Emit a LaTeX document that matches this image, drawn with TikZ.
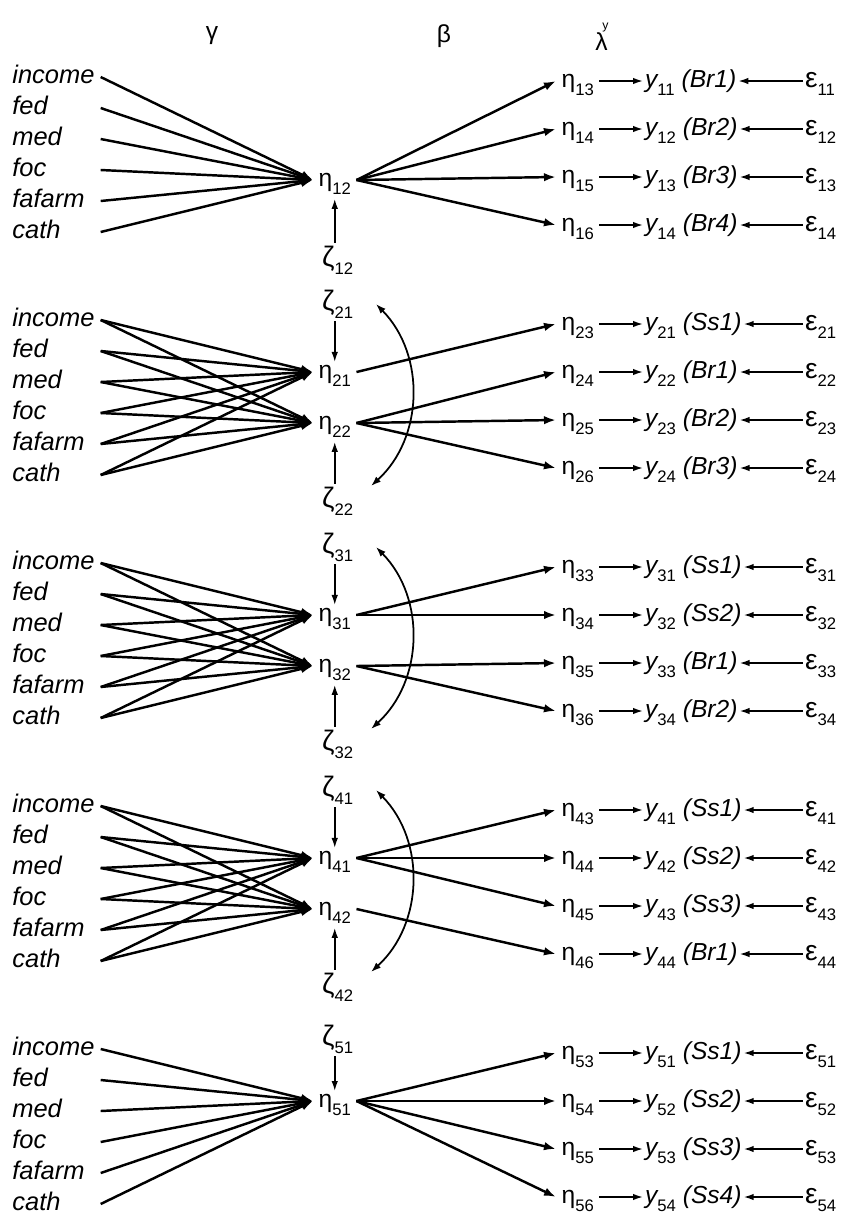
\documentclass[tikz,border=0pt]{standalone}
\usepackage{fontspec}
\setmainfont{Liberation Sans}
\usepackage{tikz}
\usetikzlibrary{arrows.meta}

\newcommand\dsz{\fontsize{14}{16}\selectfont}
\newcommand\sbs[1]{\raisebox{-4.5pt}{\fontsize{9.5}{9.5}\selectfont\upshape #1}}

\begin{document}
\begin{tikzpicture}[x=0.02cm, y=-0.02cm, >={Latex[length=2.4mm,width=1.7mm]},
  txt/.style={inner sep=1pt, text height=8pt, text depth=1pt, anchor=west, font=\dsz},
  var/.style={txt, inner xsep=0pt, text width=1.76cm, align=left, font=\fontsize{14.5}{16}\selectfont\itshape},
  lat/.style={txt, inner xsep=3pt},
  dis/.style={txt, font=\fontsize{16}{18}\selectfont},
  obs/.style={txt, font=\dsz\itshape},
  link/.style={->, line width=1.4pt},
  meas/.style={->, line width=0.9pt, >={Latex[length=2mm,width=1.3mm]}},
  dist/.style={<->, line width=1pt, >={Latex[length=2mm,width=1.4mm]}}]
  \useasboundingbox (0,0) rectangle (845,1215);

  % column heads
  \node[font=\dsz] (hg) at (212,36) {γ};
  \node[font=\dsz] (hb) at (444,36) {β};
  \node[font=\dsz] (hl) at (602,37) {λ\kern-0.22em\raisebox{1.6ex}{\fontsize{7}{7}\selectfont y}};

  % exogenous variables, one set per block
  \foreach \b in {1,...,5}
    \foreach \v [count=\k from 0] in {income,fed,med,foc,fafarm,cath}
      \node[var] (x\b\k) at (12,{243*\b-166+31*\k}) {\v};

  % latent variables and disturbances
  \node[lat] (n12) at (313,180) {η\sbs{12}};
  \node[lat] (n21) at (313,372) {η\sbs{21}};
  \node[lat] (n22) at (313,423) {η\sbs{22}};
  \node[lat] (n31) at (313,615) {η\sbs{31}};
  \node[lat] (n32) at (313,666) {η\sbs{32}};
  \node[lat] (n41) at (313,858) {η\sbs{41}};
  \node[lat] (n42) at (313,909) {η\sbs{42}};
  \node[lat] (n51) at (313,1101) {η\sbs{51}};
  \node[dis] (z12) at (320,260) {ζ\sbs{12}};
  \node[dis] (z21) at (320,304) {ζ\sbs{21}};
  \node[dis] (z22) at (320,501) {ζ\sbs{22}};
  \node[dis] (z31) at (320,547) {ζ\sbs{31}};
  \node[dis] (z32) at (320,744) {ζ\sbs{32}};
  \node[dis] (z41) at (320,790) {ζ\sbs{41}};
  \node[dis] (z42) at (320,987) {ζ\sbs{42}};
  \node[dis] (z51) at (320,1039) {ζ\sbs{51}};

  % measurement rows: eta -> y <- epsilon
  \foreach \b/\r/\lab in {1/1/Br1,1/2/Br2,1/3/Br3,1/4/Br4,
      2/1/Ss1,2/2/Br1,2/3/Br2,2/4/Br3, 3/1/Ss1,3/2/Ss2,3/3/Br1,3/4/Br2,
      4/1/Ss1,4/2/Ss2,4/3/Ss3,4/4/Br1, 5/1/Ss1,5/2/Ss2,5/3/Ss3,5/4/Ss4} {
    \pgfmathtruncatemacro\j{\r+2}
    \node[lat] (h\b\r) at (556,{243*\b-162+48*(\r-1)}) {η\sbs{\b\j}};
    \node[obs] (y\b\r) at (643,{243*\b-162+48*(\r-1)}) {y\sbs{\b\r} (\lab)};
    \node[dis] (e\b\r) at (803,{243*\b-162+48*(\r-1)}) {ε\sbs{\b\r}};
    \draw[meas] (h\b\r) -- (y\b\r);
    \draw[meas] (e\b\r) -- (y\b\r);
  }

  % gamma paths
  \foreach \b/\s in {1/12,2/21,2/22,3/31,3/32,4/41,4/42,5/51}
    \foreach \k in {0,...,5}
      \draw[link] (x\b\k.east) -- (n\s.west);

  % beta paths
  \foreach \s/\t in {12/11,12/12,12/13,12/14, 21/21,22/22,22/23,22/24,
      31/31,31/32,32/33,32/34, 41/41,41/42,41/43,42/44, 51/51,51/52,51/53,51/54}
    \draw[link] (n\s.east) -- (h\t.west);

  % disturbances
  \foreach \s in {21,31,41,51}
    \draw[meas, shorten <=4pt] (z\s.south -| n\s) -- (n\s.north);
  \foreach \s in {12,22,32,42}
    \draw[meas, shorten <=4pt, shorten >=5pt] (z\s.north -| n\s) -- (n\s.south);
  \foreach \b in {2,3,4} {
    \coordinate (ct\b) at (376,{243*\b-182});
    \coordinate (cb\b) at (371,{243*\b});
    \draw[dist] (ct\b) to[bend left=46] (cb\b);
  }
\end{tikzpicture}
\end{document}
